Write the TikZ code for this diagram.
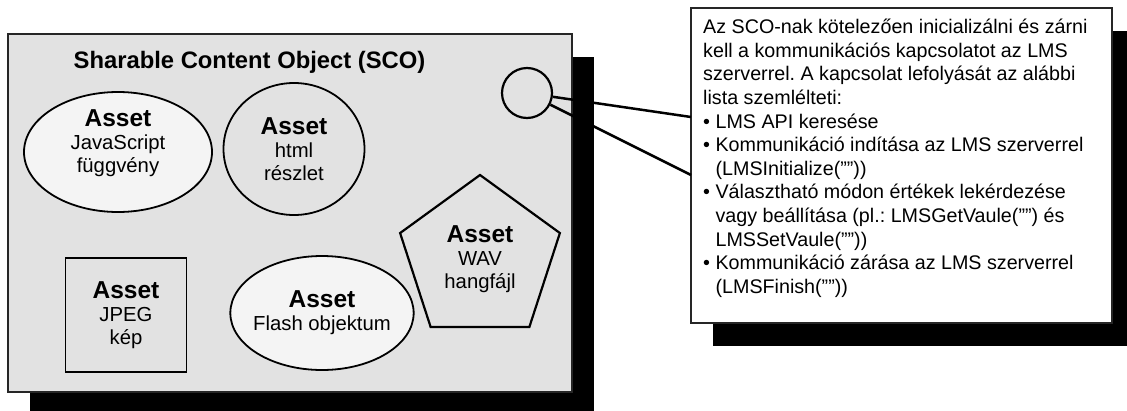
\documentclass[tikz,border=0pt]{standalone}
\usepackage{fontspec}
\setmainfont{Liberation Sans}
\usepackage{xcolor}
\usetikzlibrary{shapes.geometric}
\usetikzlibrary{shadows}
\frenchspacing

\definecolor{scogray}{HTML}{E2E2E2}
\definecolor{assetwhite}{HTML}{F4F4F4}

\newcommand{\assettitle}{{\fontsize{24.5}{23}\selectfont\bfseries Asset}}
\newcommand{\pont}{\textbullet\ }
\newcommand{\behuz}{\phantom{\textbullet\ }}

\tikzset{
  panel/.style={draw=black!85, line width=1.8pt, inner sep=0pt},
  asset/.style={draw, line width=1.8pt, inner sep=0pt, align=center,
    font=\fontsize{20.3}{23}\selectfont},
  link/.style={line width=2.5pt},
  drop/.style={drop shadow={shadow xshift=21.5pt, shadow yshift=-22.5pt,
    opacity=1, fill=black}},
}

\begin{document}
\begin{tikzpicture}[x=1pt,y=-1pt]
  \useasboundingbox (0,0) rectangle (1127,410);
  \clip (0,0) rectangle (1127,410);

  \node[panel, fill=scogray, minimum width=564pt, minimum height=358pt, drop] (sco) at (290,213) {};
  \node[font=\fontsize{23.8}{24}\selectfont\bfseries, anchor=base] (title) at (249.5,68) {Sharable Content Object (SCO)};

  \node[asset, ellipse, fill=assetwhite, minimum width=188pt, minimum height=120pt] (js) at (118,152)
    {\assettitle\\JavaScript\\függvény\rule[-21pt]{0pt}{0pt}};
  \node[asset, ellipse, fill=scogray, minimum width=141pt, minimum height=132pt] (html) at (294,149)
    {\assettitle\\html\\részlet};
  \node[asset, regular polygon, regular polygon sides=5, line width=2.2pt, fill=scogray, minimum size=168pt] (wav) at (480,259)
    {\assettitle\\WAV\\hangfájl};
  \node[asset, rectangle, fill=scogray, minimum width=121pt, minimum height=114pt] (jpeg) at (126,315)
    {\assettitle\\JPEG\\kép};
  \node[asset, ellipse, fill=assetwhite, inner xsep=-4pt, minimum width=182pt, minimum height=114pt] (flash) at (322,313)
    {\assettitle\\Flash objektum};

  \node[circle, draw, line width=2.2pt, minimum size=50pt, inner sep=0pt] (port) at (527,93) {};

  \node[panel, fill=white, minimum width=421pt, minimum height=315pt, drop] (lms) at (901.5,165.5) {};
  \node[anchor=north west, align=left, inner sep=0pt, font=\fontsize{19.7}{23.6}\selectfont] (notes) at (703,19) {%
    Az SCO-nak kötelezően inicializálni és zárni\\
    kell a kommunikációs kapcsolatot az LMS\\
    szerverrel. A kapcsolat lefolyását az alábbi\\
    lista szemlélteti:\\
    \pont LMS API keresése\\
    \pont Kommunikáció indítása az LMS szerverrel\\
    \behuz(LMSInitialize(””))\\
    \pont Választható módon értékek lekérdezése\\
    \behuz vagy beállítása (pl.: LMSGetVaule(””) és\\
    \behuz LMSSetVaule(””))\\
    \pont Kommunikáció zárása az LMS szerverrel\\
    \behuz(LMSFinish(””))};

  \coordinate (pin1) at (691,117);
  \coordinate (pin2) at (691,175);
  \draw[link] (port) -- (pin1);
  \draw[link] (port) -- (pin2);
\end{tikzpicture}
\end{document}
